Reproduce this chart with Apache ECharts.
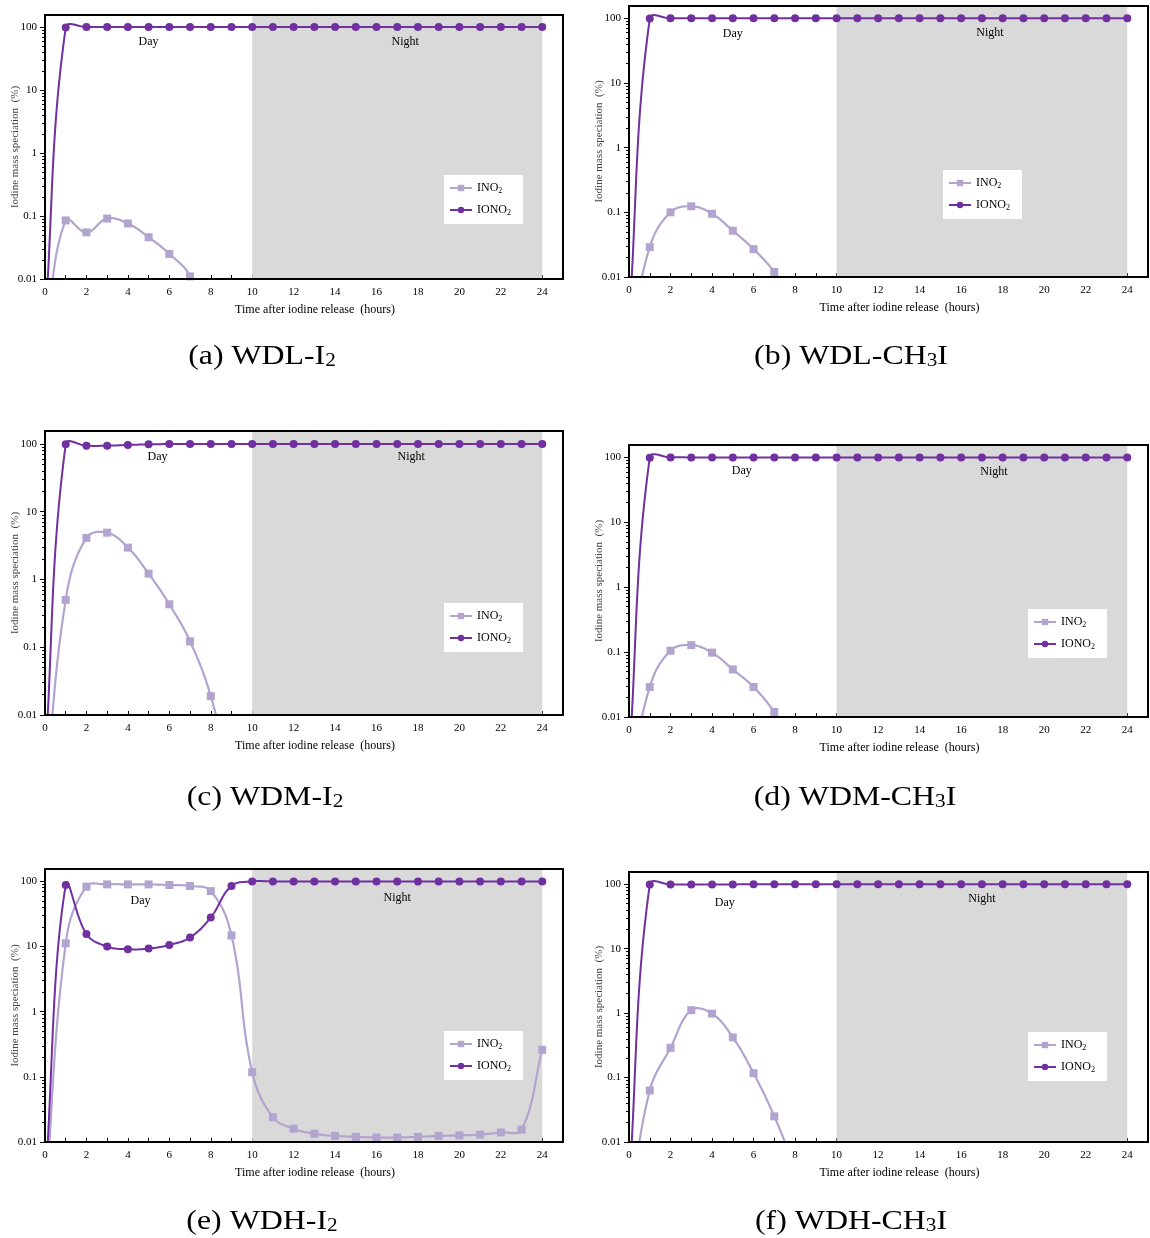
<!DOCTYPE html>
<html><head><meta charset="utf-8">
<script src="https://cdn.jsdelivr.net/npm/echarts@6/dist/echarts.min.js"></script>
<style>html,body{margin:0;padding:0;background:#fff}#c{width:1150px;height:1238px}</style>
</head><body><div id="c"></div>
<script>
// ---- data ----
const hours = [0,1,2,3,4,5,6,7,8,9,10,11,12,13,14,15,16,17,18,19,20,21,22,23,24];
const xTickLabels = [0,2,4,6,8,10,12,14,16,18,20,22,24];
const yTickLabels = [0.01,0.1,1,10,100];
const seriesNames = ['INO2','IONO2'];

// (a) WDL-I2
const a_INO2  = [0.0012,0.085,0.055,0.091,0.076,0.046,0.025,0.011,0.001];
const a_IONO2 = [0.002,98,99.9,99.9,99.9,99.9,99.9,99.9,99.9,99.9,99.9,99.9,99.9,99.9,99.9,99.9,99.9,99.9,99.9,99.9,99.9,99.9,99.9,99.9,99.9];
// (b) WDL-CH3I
const b_INO2  = [0.0008,0.029,0.10,0.124,0.095,0.052,0.027,0.012,0.004];
const b_IONO2 = [0.002,99,99.9,99.9,99.9,99.9,99.9,99.9,99.9,99.9,99.9,99.9,99.9,99.9,99.9,99.9,99.9,99.9,99.9,99.9,99.9,99.9,99.9,99.9,99.9];
// (c) WDM-I2
const c_INO2  = [0.0006,0.50,4.1,4.9,2.95,1.22,0.43,0.122,0.019,0.001];
const c_IONO2 = [0.002,99,94,94,96.5,98.5,99.5,99.9,99.9,99.9,99.9,99.9,99.9,99.9,99.9,99.9,99.9,99.9,99.9,99.9,99.9,99.9,99.9,99.9,99.9];
// (d) WDM-CH3I
const d_INO2  = [0.0008,0.029,0.105,0.128,0.098,0.054,0.029,0.012,0.004];
const d_IONO2 = [0.002,99,99.9,99.9,99.9,99.9,99.9,99.9,99.9,99.9,99.9,99.9,99.9,99.9,99.9,99.9,99.9,99.9,99.9,99.9,99.9,99.9,99.9,99.9,99.9];
// (e) WDH-I2
const e_INO2  = [0.001,11.2,83,90,90,90,88,85,71,14.8,0.118,0.024,0.016,0.0134,0.0124,0.012,0.0117,0.0117,0.012,0.0124,0.0126,0.013,0.014,0.0155,0.26];
const e_IONO2 = [0.002,88,15.6,10,9.1,9.3,10.6,13.8,28,85,99.8,99.9,99.9,99.9,99.9,99.9,99.9,99.9,99.9,99.9,99.9,99.9,99.9,99.9,99.7];
// (f) WDH-CH3I
const f_INO2  = [0.00076,0.063,0.29,1.11,0.98,0.42,0.117,0.025,0.004];
const f_IONO2 = [0.002,99,99.5,98.8,98.9,99.5,99.8,99.9,99.9,99.9,99.9,99.9,99.9,99.9,99.9,99.9,99.9,99.9,99.9,99.9,99.9,99.9,99.9,99.9,99.9];

const dayRange = [0,10];
const nightRange = [10,24];
const captions = ['(a) WDL-I{s|2}','(b) WDL-CH{s|3}I','(c) WDM-I{s|2}','(d) WDM-CH{s|3}I','(e) WDH-I{s|2}','(f) WDH-CH{s|3}I'];

// ---- layout / style ----
const FONT = '"Liberation Serif","Times New Roman",serif';
const C_INO = '#b3a4cf';
const C_IONO = '#7030a0';
const SMOOTH = 0.4;
const panels = [
  {grid:{left:45,top:15,width:518,height:264}, legend:{left:444,top:175}, cap:[262,357], day:[0,21], night:[8,21], ino:a_INO2, iono:a_IONO2},
  {grid:{left:629,top:6,width:519,height:271}, legend:{left:943,top:170}, cap:[851,357], day:[0,22], night:[8,21], ino:b_INO2, iono:b_IONO2},
  {grid:{left:45,top:431,width:518,height:284}, legend:{left:444,top:603}, cap:[265,798], day:[9,20], night:[14,20], ino:c_INO2, iono:c_IONO2},
  {grid:{left:629,top:445,width:519,height:272}, legend:{left:1028,top:609}, cap:[855,798], day:[9,20], night:[12,21], ino:d_INO2, iono:d_IONO2},
  {grid:{left:45,top:869,width:518,height:273}, legend:{left:444,top:1031}, cap:[262,1222], day:[-8,26], night:[0,23], ino:e_INO2, iono:e_IONO2},
  {grid:{left:629,top:872,width:519,height:270}, legend:{left:1028,top:1032}, cap:[851,1222], day:[-8,25], night:[0,21], ino:f_INO2, iono:f_IONO2}
];

const minorTicks = [];
[0.01,0.1,1,10,100].forEach(d => { for (let k=2;k<=9;k++) { const v = +(d*k).toPrecision(3); if (v < 155) minorTicks.push(v); } });

// smooth curve (spreadsheet-like, tangent scaled by segment lengths, no clamping)
function smoothRender(values, color, width) {
  return function (params, api) {
    if (params.dataIndex !== 0) return null;
    const P = values.map((v,k) => api.coord([hours[k], v]));
    const n = P.length, cpIn = [], cpOut = [];
    for (let i=0;i<n;i++) {
      const p = P[i], pr = P[i-1] || p, nx = P[i+1] || p;
      const vx = nx[0]-pr[0], vy = nx[1]-pr[1];
      const d0 = Math.hypot(p[0]-pr[0], p[1]-pr[1]), d1 = Math.hypot(nx[0]-p[0], nx[1]-p[1]);
      const r = (d0+d1) > 0 ? d1/(d0+d1) : 0.5;
      cpOut.push([p[0]+vx*SMOOTH*r, p[1]+vy*SMOOTH*r]);
      cpIn.push([p[0]-vx*SMOOTH*(1-r), p[1]-vy*SMOOTH*(1-r)]);
    }
    const pts = [P[0]];
    for (let i=0;i<n-1;i++) {
      const a=P[i], b=cpOut[i], c=cpIn[i+1], d=P[i+1];
      for (let s=1;s<=30;s++) {
        const t=s/30, u=1-t;
        pts.push([u*u*u*a[0]+3*u*u*t*b[0]+3*u*t*t*c[0]+t*t*t*d[0],
                  u*u*u*a[1]+3*u*u*t*b[1]+3*u*t*t*c[1]+t*t*t*d[1]]);
      }
    }
    return {type:'polyline', shape:{points:pts}, style:{stroke:color, lineWidth:width, fill:null, lineJoin:'round'}, silent:true};
  };
}

const grids=[], xAxes=[], yAxes=[], yMinor=[], series=[], legends=[], graphics=[];
panels.forEach((p,i) => {
  grids.push(Object.assign({show:true, borderColor:'#000', borderWidth:2, backgroundColor:'transparent', z:10}, p.grid));
  xAxes.push({
    type:'value', gridIndex:i, min:0, max:25,
    axisLine:{show:true, lineStyle:{color:'#000', width:1}},
    axisTick:{show:true, inside:true, length:4, customValues:hours, lineStyle:{color:'#000'}},
    axisLabel:{customValues:xTickLabels, margin:8, fontFamily:FONT, fontSize:11, color:'#000'},
    splitLine:{show:false},
    name:'Time after iodine release  (hours)', nameLocation:'middle', nameGap:25, nameMoveOverlap:false,
    nameTextStyle:{fontFamily:FONT, fontSize:12, color:'#000', padding:[0,0,0,22]}
  });
  yAxes.push({
    type:'log', logBase:10, gridIndex:i, min:0.01, max:155, position:'left',
    axisLine:{show:true, lineStyle:{color:'#000', width:1}},
    axisTick:{show:true, length:5, customValues:yTickLabels, lineStyle:{color:'#000'}},
    axisLabel:{customValues:yTickLabels, margin:8, fontFamily:FONT, fontSize:11, color:'#000',
      formatter: v => String(+Number(v).toPrecision(3))},
    splitLine:{show:false},
    name:'Iodine mass speciation  (%)', nameLocation:'middle', nameGap:24, nameMoveOverlap:false,
    nameTextStyle:{fontFamily:FONT, fontSize:11, color:'#444'}
  });
  yMinor.push({
    type:'log', logBase:10, gridIndex:i, min:0.01, max:155, position:'left',
    axisLine:{show:false}, axisLabel:{show:false}, splitLine:{show:false},
    axisTick:{show:true, length:3, customValues:minorTicks, lineStyle:{color:'#000'}}
  });
  // shading + Day / Night labels
  series.push({
    type:'line', xAxisIndex:i, yAxisIndex:i, data:[], silent:true, z:1,
    markArea:{silent:true, data:[
      [{xAxis:nightRange[0], itemStyle:{color:'#d9d9d9'},
        label:{show:true, position:'insideTop', distance:p.night[1], offset:[p.night[0],0], formatter:'Night', fontFamily:FONT, fontSize:12, color:'#000'}},
       {xAxis:nightRange[1]}],
      [{xAxis:dayRange[0], itemStyle:{color:'rgba(0,0,0,0)'},
        label:{show:true, position:'insideTop', distance:p.day[1], offset:[p.day[0],0], formatter:'Day', fontFamily:FONT, fontSize:12, color:'#000'}},
       {xAxis:dayRange[1]}]
    ]}
  });
  // markers (line hidden; curve drawn by custom series)
  series.push({
    name:seriesNames[0], type:'line', xAxisIndex:i, yAxisIndex:i, z:4,
    data:p.ino.map((v,k)=>[hours[k],v]),
    symbol:'rect', symbolSize:8, showAllSymbol:true,
    itemStyle:{color:C_INO}, lineStyle:{color:C_INO, width:2.2, opacity:0}
  });
  series.push({
    name:seriesNames[1], type:'line', xAxisIndex:i, yAxisIndex:i, z:6,
    data:p.iono.map((v,k)=>[hours[k],v]),
    symbol:'circle', symbolSize:8, showAllSymbol:true,
    itemStyle:{color:C_IONO}, lineStyle:{color:C_IONO, width:2, opacity:0}
  });
  series.push({
    type:'custom', xAxisIndex:i, yAxisIndex:i, z:3, clip:true, silent:true,
    data:p.ino.map((v,k)=>[hours[k],v]), encode:{x:0,y:1},
    renderItem: smoothRender(p.ino, C_INO, 2.2)
  });
  series.push({
    type:'custom', xAxisIndex:i, yAxisIndex:i, z:5, clip:true, silent:true,
    data:p.iono.map((v,k)=>[hours[k],v]), encode:{x:0,y:1},
    renderItem: smoothRender(p.iono, C_IONO, 2)
  });
  legends.push({
    left:p.legend.left, top:p.legend.top, orient:'vertical', data:seriesNames,
    backgroundColor:'#fff', padding:[7,12,7,5], itemGap:9, itemWidth:22, itemHeight:8,
    selectedMode:false, z:20,
    lineStyle:{opacity:1},
    formatter: n => n==='INO2' ? 'INO{s|2}' : 'IONO{s|2}',
    textStyle:{fontFamily:FONT, fontSize:12, color:'#000',
      rich:{s:{fontFamily:FONT, fontSize:8, color:'#000', padding:[6,0,0,0]}}}
  });
  graphics.push({
    type:'text', x:p.cap[0], y:p.cap[1], scaleX:1.18,
    style:{text:captions[i], fontFamily:FONT, fontSize:27, fill:'#000', align:'center', verticalAlign:'middle',
      rich:{s:{fontFamily:FONT, fontSize:18, fill:'#000', padding:[9,0,0,0]}}}
  });
});

const chart = echarts.init(document.getElementById('c'), null, {renderer:'canvas'});
chart.setOption({
  backgroundColor:'#fff',
  animation:false,
  grid:grids, xAxis:xAxes, yAxis:yAxes.concat(yMinor), series:series, legend:legends, graphic:graphics
});
</script></body></html>
